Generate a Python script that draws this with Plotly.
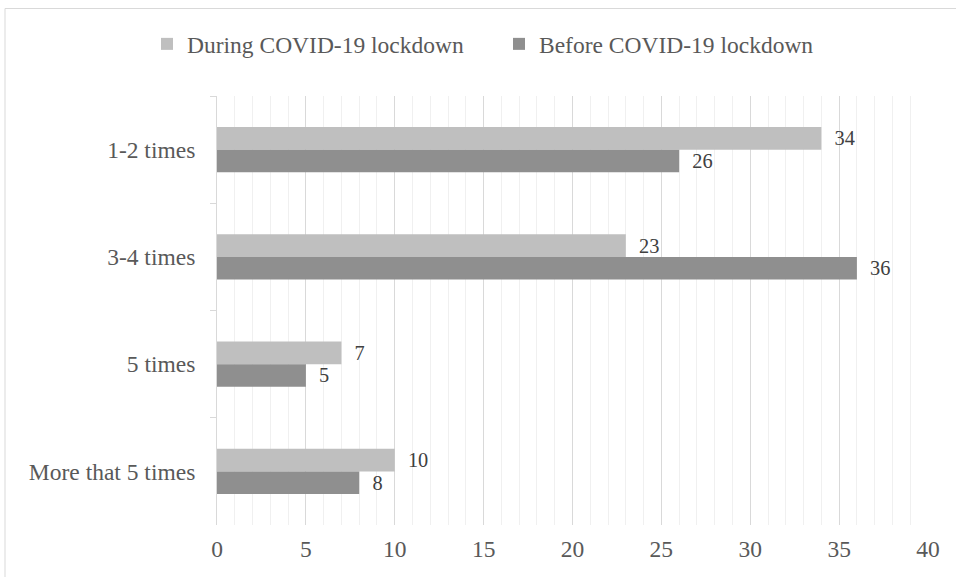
import plotly.graph_objects as go

categories = ["1-2 times", "3-4 times", "5 times", "More that 5 times"]
during_vals = [34, 23, 7, 10]
before_vals = [26, 36, 5, 8]
series_names = ["During COVID-19 lockdown", "Before COVID-19 lockdown"]
x_ticks = [0, 5, 10, 15, 20, 25, 30, 35, 40]

FONT = "Liberation Serif, Times New Roman, serif"
TXT = "#595959"
LABEL = "#404040"
FS = 23.5
pad = "\u00a0\u00a0"

fig = go.Figure()
fig.add_trace(go.Bar(
    y=categories, x=during_vals, name=series_names[0], orientation="h",
    marker=dict(color="#BFBFBF", line=dict(width=0)),
    text=[pad + str(v) for v in during_vals], textposition="outside",
    textfont=dict(family=FONT, size=FS, color=LABEL), cliponaxis=False,
    legend="legend",
))
fig.add_trace(go.Bar(
    y=categories, x=before_vals, name=series_names[1], orientation="h",
    marker=dict(color="#8F8F8F", line=dict(width=0)),
    text=[pad + str(v) for v in before_vals], textposition="outside",
    textfont=dict(family=FONT, size=FS, color=LABEL), cliponaxis=False,
    legend="legend2",
))

leg_common = dict(orientation="h", xanchor="left", y=1.121, yanchor="middle",
                  font=dict(family=FONT, size=FS, color=TXT), itemwidth=30,
                  bgcolor="rgba(0,0,0,0)")

fig.update_layout(
    width=956, height=577,
    margin=dict(l=217, r=28, t=96, b=52),
    paper_bgcolor="white", plot_bgcolor="white",
    barmode="group", bargap=0.58, bargroupgap=0,
    font=dict(family=FONT, size=FS, color=TXT),
    showlegend=True,
    legend=dict(x=(147 - 217) / 711, **leg_common),
    legend2=dict(x=(499 - 217) / 711, **leg_common),
    xaxis=dict(range=[0, 40], tickvals=x_ticks, showgrid=True, gridcolor="#D9D9D9",
               gridwidth=1, zeroline=False, showline=False, ticks="",
               minor=dict(dtick=1, showgrid=True, gridcolor="#F0F0F0", gridwidth=1),
               tickfont=dict(family=FONT, size=FS, color=TXT), ticklabelstandoff=7),
    yaxis=dict(autorange="reversed", showline=True, linecolor="#D9D9D9", linewidth=1,
               ticks="outside", tickson="boundaries", ticklen=6, tickcolor="#D9D9D9",
               showgrid=False, tickfont=dict(family=FONT, size=FS, color=TXT),
               ticklabelstandoff=16),
    shapes=[dict(type="rect", xref="paper", yref="paper",
                 x0=(5 - 217) / 711, x1=1.2, y0=-0.3, y1=(525 - 8.5) / 429,
                 line=dict(color="#D9D9D9", width=1), fillcolor="rgba(0,0,0,0)",
                 layer="below")],
)

fig.write_html("out.html", config={"displayModeBar": False},
               post_script="document.body.style.margin='0px';document.body.style.overflow='hidden';")
